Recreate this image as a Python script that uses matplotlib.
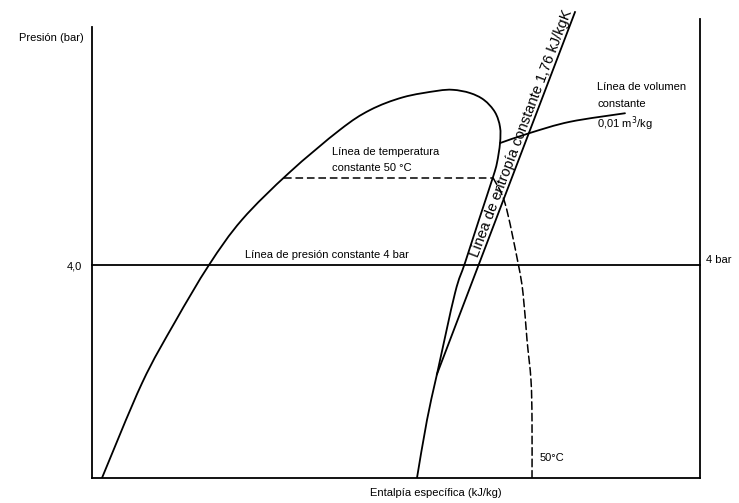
import numpy as np
import matplotlib
matplotlib.use("Agg")
import matplotlib.pyplot as plt
from matplotlib.path import Path
from matplotlib.patches import PathPatch

plt.rcParams['font.family'] = ['Liberation Sans', 'DejaVu Sans']

# Saturation dome (liquid leg -> critical region -> vapour leg), enthalpy vs pressure
dome_h = [1.64, 8.22, 13.65, 19.24, 24.67, 32.40, 40.79, 45.72, 51.15, 56.74,
          59.38, 62.17, 64.47, 66.28, 67.11, 67.11, 66.61, 65.95, 63.65, 61.35,
          59.70, 56.74, 55.10, 53.45]
dome_p = [0.00, 1.78, 2.93, 4.00, 4.85, 5.73, 6.54, 6.91, 7.15, 7.27,
          7.29, 7.23, 7.10, 6.87, 6.59, 6.29, 5.92, 5.65, 4.85, 4.04,
          3.47, 1.95, 1.09, 0.00]

# Isotherm 50 °C: flat inside the dome, then dropping in the superheated zone
iso_t_flat_h = [31.60, 65.95]
iso_t_flat_p = [5.64, 5.64]
iso_t_sup_h = [65.95, 67.93, 70.07, 70.89, 71.55, 72.20, 72.37, 72.37]
iso_t_sup_p = [5.64, 5.16, 4.04, 3.47, 2.59, 1.84, 1.09, 0.00]

# Isentrope 1,76 kJ/kgK
iso_s_h = [56.74, 79.44]
iso_s_p = [1.95, 8.75]

# Isochore 0,01 m3/kg
iso_v_h = [67.11, 72.04, 78.62, 87.66]
iso_v_p = [6.29, 6.48, 6.69, 6.85]

# Isobar 4 bar
p_const = 4.0
h_range = (0.0, 100.0)
p_top = 8.62


def smooth_path(xs, ys):
    """Catmull-Rom curve through the given points, as cubic Bezier segments."""
    pts = np.column_stack([xs, ys]).astype(float)
    ext = np.vstack([pts[0], pts, pts[-1]])
    verts = [pts[0]]
    codes = [Path.MOVETO]
    for i in range(1, len(ext) - 2):
        p0, p1, p2, p3 = ext[i - 1], ext[i], ext[i + 1], ext[i + 2]
        verts += [p1 + (p2 - p0) / 6.0, p2 - (p3 - p1) / 6.0, p2]
        codes += [Path.CURVE4] * 3
    return Path(np.array(verts), codes)


def curve(ax, xs, ys, **kw):
    patch = PathPatch(smooth_path(xs, ys), fill=False, edgecolor='black',
                      capstyle='round', **kw)
    ax.add_patch(patch)


fig = plt.figure(figsize=(7.39, 5.03), dpi=100)
ax = fig.add_axes([92 / 739, 25 / 503, 608 / 739, 459 / 503])
ax.set_xlim(*h_range)
ax.set_ylim(0, p_top)

lw = 1.3
curve(ax, dome_h, dome_p, lw=lw)
ax.plot(iso_t_flat_h, iso_t_flat_p, color='black', lw=1.1, ls=(0, (5, 2.5)))
curve(ax, iso_t_sup_h, iso_t_sup_p, lw=1.1, linestyle=(0, (5, 2.5)))
ax.plot(iso_s_h, iso_s_p, color='black', lw=lw, clip_on=False)
curve(ax, iso_v_h, iso_v_p, lw=lw)
ax.plot(h_range, [p_const, p_const], color='black', lw=lw, clip_on=False)

for side in ('left', 'right', 'bottom'):
    ax.spines[side].set_linewidth(1.3)
ax.spines['top'].set_visible(False)
ax.spines['left'].set_bounds(0, 8.47)

ax.set_xticks([])
ax.set_yticks([p_const], ['4,0'])
ax.tick_params(axis='y', length=0, pad=7, labelsize=8)

fs = 8
ax.text(39.47, 6.12, 'Línea de temperatura', fontsize=fs, va='center', ha='left')
ax.text(39.47, 5.82, 'constante 50 °C', fontsize=fs, va='center', ha='left')
ax.text(25.16, 4.19, 'Línea de presión constante 4 bar', fontsize=fs, va='center', ha='left')
ax.text(83.06, 7.34, 'Línea de volumen', fontsize=fs, va='center', ha='left')
ax.text(83.06, 7.02, 'constante', fontsize=fs, va='center', ha='left')
ax.text(83.06, 6.65, '0,01 m$^3$/kg', fontsize=fs, va='center', ha='left')
ax.text(73.68, 0.38, '50°C', fontsize=fs, va='center', ha='left')
ax.text(100.99, 4.09, '4 bar', fontsize=fs, va='center', ha='left', clip_on=False)

ang = np.degrees(np.arctan2(iso_s_p[1] - iso_s_p[0], iso_s_h[1] - iso_s_h[0]))
ax.text(64.0, 4.12, 'Línea de entropía constante 1,76 kJ/kgK', fontsize=10.5,
        rotation=ang, rotation_mode='anchor', transform_rotates_text=True,
        ha='left', va='bottom')

fig.text(84 / 739, 1 - 38 / 503, 'Presión (bar)', fontsize=fs, ha='right', va='center')
fig.text(370 / 739, 1 - 493 / 503, 'Entalpía específica (kJ/kg)', fontsize=fs,
         ha='left', va='center')

fig.savefig('out.png', dpi=100)
